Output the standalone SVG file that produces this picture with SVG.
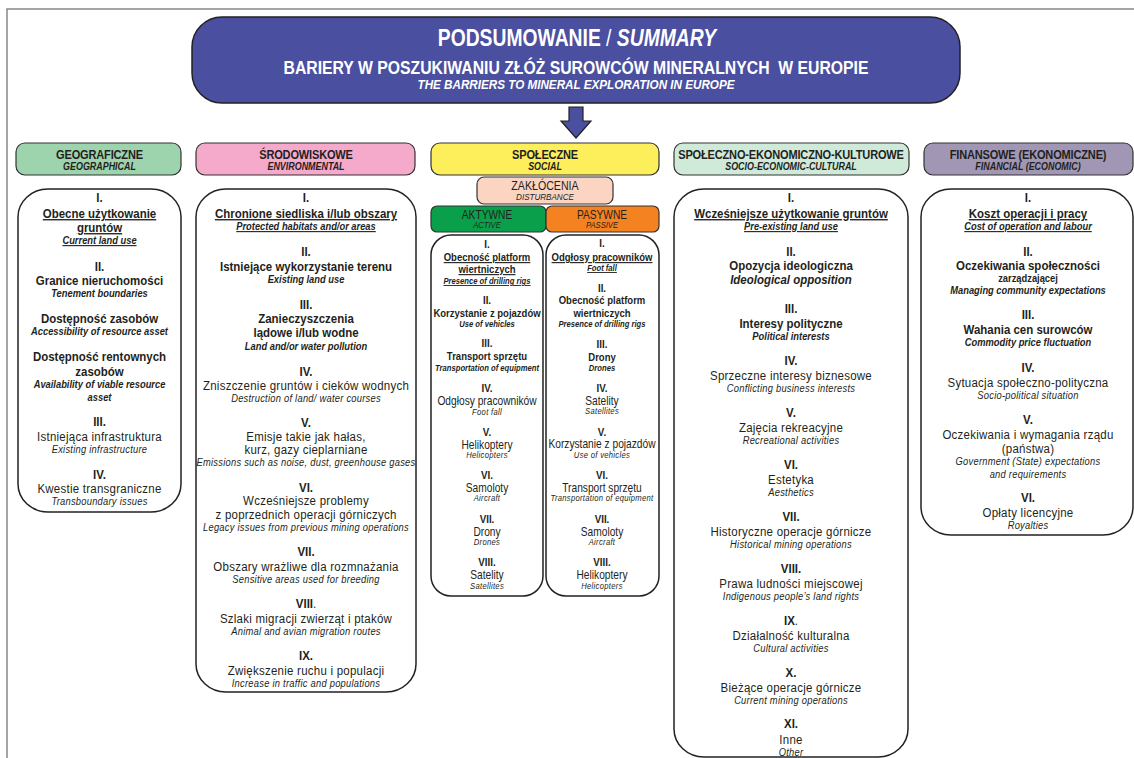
<svg xmlns="http://www.w3.org/2000/svg" width="1134" height="758" viewBox="0 0 1134 758">
<style>
text{font-family:"Liberation Sans",Arial,sans-serif;fill:#231f20;text-anchor:middle}
.n{font-weight:bold;font-size:13.5px}
.b{font-weight:bold;font-size:13.5px}
.r{font-size:13.5px;letter-spacing:0.3px}
.bi{font-weight:bold;font-style:italic;font-size:11px}
.i{font-style:italic;font-size:11px;letter-spacing:0.3px}
.u{text-decoration:underline}
.sn{font-weight:bold;font-size:11.5px}
.sb{font-weight:bold;font-size:11.2px}
.sr{font-size:12px}
.sbi{font-weight:bold;font-style:italic;font-size:9px}
.si{font-style:italic;font-size:9px;letter-spacing:0.35px}
.hd{font-weight:bold;font-size:13px;letter-spacing:-0.2px}
.hs{font-weight:bold;font-style:italic;font-size:10.5px}
.t{fill:#fff;font-weight:bold}
.cat{stroke:#333;stroke-width:1.2}
.box{fill:#fff;stroke:#222;stroke-width:1.5}
</style>
<g id="frame"><path d="M7,758 V9 H1134" fill="none" stroke="#888" stroke-width="1.5"/></g>
<g id="title">
<rect x="192" y="17" width="768" height="86" rx="30" fill="#4a4f9f" stroke="#222" stroke-width="1.5"/>
<text class="t" transform="translate(577,46) scale(0.84,1)" x="0" y="0" style="font-size:23px">PODSUMOWANIE <tspan style="font-weight:normal">/</tspan> <tspan style="font-style:italic">SUMMARY</tspan></text>
<text class="t" x="576" y="74" style="font-size:18px" textLength="585" lengthAdjust="spacingAndGlyphs">BARIERY W POSZUKIWANIU ZŁÓŻ SUROWCÓW MINERALNYCH&#160; W EUROPIE</text>
<text class="t" x="576" y="89" style="font-size:12.5px;font-style:italic" textLength="317" lengthAdjust="spacingAndGlyphs">THE BARRIERS TO MINERAL EXPLORATION IN EUROPE</text>
</g>
<g id="connectors">
<polygon points="569,107 583,107 583,121 591,121 576,138 561,121 569,121" fill="#4a4f9f" stroke="#222" stroke-width="1.2"/>
</g>
<g id="geo">
<rect class="cat" x="16" y="143" width="165" height="32" rx="9" fill="#9dd4ae"/>
<rect class="box" x="18" y="189" width="163" height="323" rx="30" ry="28"/>
<g transform="translate(99.5,0) scale(0.85,1)">
<text class="hd" x="0" y="159">GEOGRAFICZNE</text>
<text class="hs" x="0" y="170">GEOGRAPHICAL</text>
<text class="n" x="0" y="202">I.</text>
<text class="b u" x="0" y="218">Obecne użytkowanie</text>
<text class="b u" x="0" y="232">gruntów</text>
<text class="bi u" x="0" y="244">Current land use</text>
<text class="n" x="0" y="271">II.</text>
<text class="b" x="0" y="285">Granice nieruchomości</text>
<text class="bi" x="0" y="297">Tenement boundaries</text>
<text class="b" x="0" y="323">Dostępność zasobów</text>
<text class="bi" x="0" y="335">Accessibility of resource asset</text>
<text class="b" x="0" y="361">Dostępność rentownych</text>
<text class="b" x="0" y="376">zasobów</text>
<text class="bi" x="0" y="388">Availability of viable resource</text>
<text class="bi" x="0" y="401">asset</text>
<text class="n" x="0" y="426">III.</text>
<text class="r" x="0" y="441">Istniejąca infrastruktura</text>
<text class="i" x="0" y="453">Existing infrastructure</text>
<text class="n" x="0" y="479">IV.</text>
<text class="r" x="0" y="493">Kwestie transgraniczne</text>
<text class="i" x="0" y="505">Transboundary issues</text>
</g>
</g>
<g id="env">
<rect class="cat" x="196" y="143" width="219" height="32" rx="9" fill="#f5a9cb"/>
<rect class="box" x="196" y="189" width="220" height="503" rx="30" ry="28"/>
<g transform="translate(306,0) scale(0.85,1)">
<text class="hd" x="0" y="159">ŚRODOWISKOWE</text>
<text class="hs" x="0" y="170">ENVIRONMENTAL</text>
<text class="n" x="0" y="202">I.</text>
<text class="b u" x="0" y="218">Chronione siedliska i/lub obszary</text>
<text class="bi u" x="0" y="230">Protected habitats and/or areas</text>
<text class="n" x="0" y="256">II.</text>
<text class="b" x="0" y="271">Istniejące wykorzystanie terenu</text>
<text class="bi" x="0" y="283">Existing land use</text>
<text class="n" x="0" y="309">III.</text>
<text class="b" x="0" y="323">Zanieczyszczenia</text>
<text class="b" x="0" y="337">lądowe i/lub wodne</text>
<text class="bi" x="0" y="350">Land and/or water pollution</text>
<text class="n" x="0" y="376">IV.</text>
<text class="r" x="0" y="390">Zniszczenie gruntów i cieków wodnych</text>
<text class="i" x="0" y="402">Destruction of land/ water courses</text>
<text class="n" x="0" y="427">V.</text>
<text class="r" x="0" y="441">Emisje takie jak hałas,</text>
<text class="r" x="0" y="454">kurz, gazy cieplarniane</text>
<text class="i" x="0" y="466">Emissions such as noise, dust, greenhouse gases</text>
<text class="n" x="0" y="492">VI.</text>
<text class="r" x="0" y="505">Wcześniejsze problemy</text>
<text class="r" x="0" y="519">z poprzednich operacji górniczych</text>
<text class="i" x="0" y="531">Legacy issues from previous mining operations</text>
<text class="n" x="0" y="556">VII.</text>
<text class="r" x="0" y="571">Obszary wrażliwe dla rozmnażania</text>
<text class="i" x="0" y="583">Sensitive areas used for breeding</text>
<text class="n" x="0" y="608">VIII<tspan style="font-weight:normal">.</tspan></text>
<text class="r" x="0" y="623">Szlaki migracji zwierząt i ptaków</text>
<text class="i" x="0" y="635">Animal and avian migration routes</text>
<text class="n" x="0" y="660">IX.</text>
<text class="r" x="0" y="675">Zwiększenie ruchu i populacji</text>
<text class="i" x="0" y="687">Increase in traffic and populations</text>
</g>
</g>
<g id="social">
<rect class="cat" x="431" y="143" width="228" height="32" rx="9" fill="#fdee5b"/>
<g transform="translate(545,0) scale(0.85,1)">
<text class="hd" x="0" y="159">SPOŁECZNE</text>
<text class="hs" x="0" y="170">SOCIAL</text>
</g>
</g>
<g id="disturbance">
<rect class="cat" x="477" y="177" width="136" height="27" rx="7" fill="#fcd4c2"/>
<g transform="translate(545,0) scale(0.85,1)">
<text x="0" y="190" style="font-size:12.5px">ZAKŁÓCENIA</text>
<text x="0" y="200" style="font-size:9.5px;font-style:italic">DISTURBANCE</text>
</g>
</g>
<g id="active">
<rect class="cat" x="431" y="206" width="115" height="26" rx="6" fill="#0aa04b"/>
<rect class="box" x="431" y="235" width="112" height="361" rx="20" ry="20"/>
<g transform="translate(487,0) scale(0.85,1)">
<text x="0" y="219" style="font-size:12px">AKTYWNE</text>
<text x="0" y="228" style="font-size:9px;font-style:italic">ACTIVE</text>
<text class="sn" x="0" y="248">I.</text>
<text class="sb u" x="0" y="261">Obecność platform</text>
<text class="sb u" x="0" y="273">wiertniczych</text>
<text class="sbi u" x="0" y="284">Presence of drilling rigs</text>
<text class="sn" x="0" y="304">II.</text>
<text class="sb" x="0" y="317">Korzystanie z pojazdów</text>
<text class="sbi" x="0" y="327">Use of vehicles</text>
<text class="sn" x="0" y="347">III.</text>
<text class="sb" x="0" y="360">Transport sprzętu</text>
<text class="sbi" x="0" y="371">Transportation of equipment</text>
<text class="sn" x="0" y="392">IV.</text>
<text class="sr" x="0" y="405">Odgłosy pracowników</text>
<text class="si" x="0" y="415">Foot fall</text>
<text class="sn" x="0" y="436">V.</text>
<text class="sr" x="0" y="449">Helikoptery</text>
<text class="si" x="0" y="458">Helicopters</text>
<text class="sn" x="0" y="479">VI.</text>
<text class="sr" x="0" y="492">Samoloty</text>
<text class="si" x="0" y="501">Aircraft</text>
<text class="sn" x="0" y="523">VII.</text>
<text class="sr" x="0" y="536">Drony</text>
<text class="si" x="0" y="545">Drones</text>
<text class="sn" x="0" y="566">VIII.</text>
<text class="sr" x="0" y="579">Satelity</text>
<text class="si" x="0" y="589">Satellites</text>
</g>
</g>
<g id="passive">
<rect class="cat" x="546" y="206" width="113" height="26" rx="6" fill="#f58220"/>
<rect class="box" x="546" y="235" width="113" height="361" rx="20" ry="20"/>
<g transform="translate(602,0) scale(0.85,1)">
<text x="0" y="219" style="font-size:12px">PASYWNE</text>
<text x="0" y="228" style="font-size:9px;font-style:italic">PASSIVE</text>
<text class="sn" x="0" y="247">I.</text>
<text class="sb u" x="0" y="261">Odgłosy pracowników</text>
<text class="sbi u" x="0" y="271">Foot fall</text>
<text class="sn" x="0" y="292">II.</text>
<text class="sb" x="0" y="304">Obecność platform</text>
<text class="sb" x="0" y="317">wiertniczych</text>
<text class="sbi" x="0" y="327">Presence of drilling rigs</text>
<text class="sn" x="0" y="348">III.</text>
<text class="sb" x="0" y="361">Drony</text>
<text class="sbi" x="0" y="371">Drones</text>
<text class="sn" x="0" y="392">IV.</text>
<text class="sr" x="0" y="405">Satelity</text>
<text class="si" x="0" y="414">Satellites</text>
<text class="sn" x="0" y="436">V.</text>
<text class="sr" x="0" y="448">Korzystanie z pojazdów</text>
<text class="si" x="0" y="458">Use of vehicles</text>
<text class="sn" x="0" y="479">VI.</text>
<text class="sr" x="0" y="492">Transport sprzętu</text>
<text class="si" x="0" y="501">Transportation of equipment</text>
<text class="sn" x="0" y="523">VII.</text>
<text class="sr" x="0" y="536">Samoloty</text>
<text class="si" x="0" y="545">Aircraft</text>
<text class="sn" x="0" y="566">VIII.</text>
<text class="sr" x="0" y="579">Helikoptery</text>
<text class="si" x="0" y="589">Helicopters</text>
</g>
</g>
<g id="socio">
<rect class="cat" x="674" y="143" width="235" height="32" rx="9" fill="#d0eada"/>
<rect class="box" x="674" y="189" width="234" height="568" rx="30" ry="28"/>
<g transform="translate(791,0) scale(0.85,1)">
<text class="hd" x="0" y="159">SPOŁECZNO-EKONOMICZNO-KULTUROWE</text>
<text class="hs" x="0" y="170">SOCIO-ECONOMIC-CULTURAL</text>
<text class="n" x="0" y="202">I.</text>
<text class="b u" x="0" y="218">Wcześniejsze użytkowanie gruntów</text>
<text class="bi u" x="0" y="230">Pre-existing land use</text>
<text class="n" x="0" y="256">II.</text>
<text class="b" x="0" y="270">Opozycja ideologiczna</text>
<text class="bi" x="0" y="284" style="font-size:13.5px">Ideological opposition</text>
<text class="n" x="0" y="313">III.</text>
<text class="b" x="0" y="328">Interesy polityczne</text>
<text class="bi" x="0" y="340">Political interests</text>
<text class="n" x="0" y="365">IV.</text>
<text class="r" x="0" y="380">Sprzeczne interesy biznesowe</text>
<text class="i" x="0" y="392">Conflicting business interests</text>
<text class="n" x="0" y="417">V.</text>
<text class="r" x="0" y="432">Zajęcia rekreacyjne</text>
<text class="i" x="0" y="444">Recreational activities</text>
<text class="n" x="0" y="469">VI.</text>
<text class="r" x="0" y="484">Estetyka</text>
<text class="i" x="0" y="496">Aesthetics</text>
<text class="n" x="0" y="521">VII.</text>
<text class="r" x="0" y="536">Historyczne operacje górnicze</text>
<text class="i" x="0" y="548">Historical mining operations</text>
<text class="n" x="0" y="573">VIII.</text>
<text class="r" x="0" y="588">Prawa ludności miejscowej</text>
<text class="i" x="0" y="600">Indigenous people’s land rights</text>
<text class="n" x="0" y="625">IX<tspan style="font-weight:normal">.</tspan></text>
<text class="r" x="0" y="640">Działalność kulturalna</text>
<text class="i" x="0" y="652">Cultural activities</text>
<text class="n" x="0" y="677">X.</text>
<text class="r" x="0" y="692">Bieżące operacje górnicze</text>
<text class="i" x="0" y="704">Current mining operations</text>
<text class="n" x="0" y="728">XI.</text>
<text class="r" x="0" y="744">Inne</text>
<text class="i" x="0" y="756">Other</text>
</g>
</g>
<g id="financial">
<rect class="cat" x="924" y="143" width="209" height="32" rx="9" fill="#a197b5"/>
<rect class="box" x="921" y="189" width="212" height="346" rx="30" ry="28"/>
<g transform="translate(1028,0) scale(0.85,1)">
<text class="hd" x="0" y="159">FINANSOWE (EKONOMICZNE)</text>
<text class="hs" x="0" y="170">FINANCIAL (ECONOMIC)</text>
<text class="n" x="0" y="202">I.</text>
<text class="b u" x="0" y="218">Koszt operacji i pracy</text>
<text class="bi u" x="0" y="230">Cost of operation and labour</text>
<text class="n" x="0" y="256">II.</text>
<text class="b" x="0" y="270">Oczekiwania społeczności</text>
<text class="b" x="0" y="282" style="font-size:11px">zarządzającej</text>
<text class="bi" x="0" y="294">Managing community expectations</text>
<text class="n" x="0" y="319">III.</text>
<text class="b" x="0" y="334">Wahania cen surowców</text>
<text class="bi" x="0" y="346">Commodity price fluctuation</text>
<text class="n" x="0" y="372">IV.</text>
<text class="r" x="0" y="387">Sytuacja społeczno-polityczna</text>
<text class="i" x="0" y="399">Socio-political situation</text>
<text class="n" x="0" y="424">V.</text>
<text class="r" x="0" y="439">Oczekiwania i wymagania rządu</text>
<text class="r" x="0" y="453">(państwa)</text>
<text class="i" x="0" y="465">Government (State) expectations</text>
<text class="i" x="0" y="478">and requirements</text>
<text class="n" x="0" y="502">VI.</text>
<text class="r" x="0" y="517">Opłaty licencyjne</text>
<text class="i" x="0" y="529">Royalties</text>
</g>
</g>
</svg>
